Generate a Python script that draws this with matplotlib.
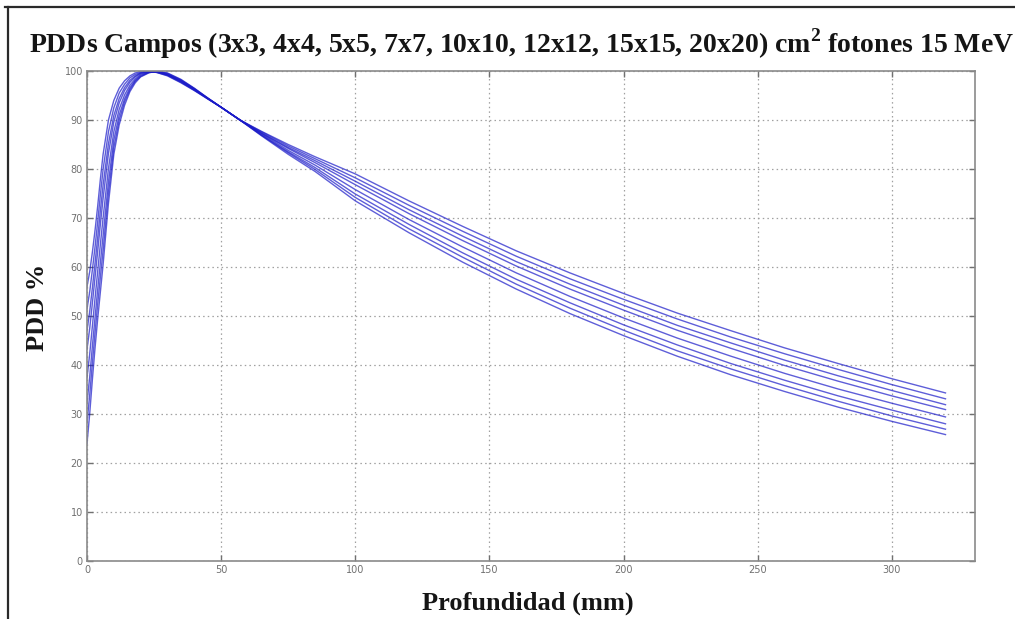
import matplotlib
matplotlib.use("Agg")
import matplotlib.pyplot as plt
from matplotlib.lines import Line2D

# Depth (mm)
depth = [0, 1, 2, 3, 4, 5, 6, 8, 10, 12, 14, 16, 18, 20, 23, 26, 30, 35, 40, 45, 50,
         57, 65, 75, 85, 100, 120, 140, 160, 180, 200, 220, 240, 260, 280, 300, 320]

fields = ["3x3", "4x4", "5x5", "7x7", "10x10", "12x12", "15x15", "20x20"]

pdd_3x3 = [24, 30, 37, 43.5, 49.5, 55, 60.5, 73, 83, 89, 93, 95.8, 97.6, 98.8, 99.6, 100, 99.6, 98.3, 96.5, 94.5, 92.6,
           90, 86.8, 83.0, 79.5, 73.5, 67.0, 61.0, 55.5, 50.5, 46.0, 41.8, 38.0, 34.6, 31.4, 28.5, 25.8]
pdd_4x4 = [28.2, 33.8, 40.4, 46.6, 52.5, 58, 63.4, 75.2, 84.4, 90, 93.7, 96.2, 97.9, 98.9, 99.7, 100, 99.5, 98.2, 96.4, 94.5, 92.6,
           90, 86.9, 83.3, 79.9, 74.2, 67.8, 62.0, 56.5, 51.6, 47.1, 42.9, 39.2, 35.8, 32.6, 29.6, 26.9]
pdd_5x5 = [32.3, 37.5, 43.8, 49.7, 55.5, 61, 66.4, 77.4, 85.9, 91, 94.3, 96.6, 98.1, 99.1, 99.7, 99.9, 99.4, 98.1, 96.4, 94.4, 92.6,
           90, 87.0, 83.5, 80.3, 74.9, 68.7, 62.9, 57.5, 52.7, 48.2, 44.1, 40.3, 36.9, 33.7, 30.8, 28.0]
pdd_7x7 = [37.4, 42.2, 47.9, 53.6, 59.2, 64.7, 70, 80.1, 87.6, 92.2, 95.1, 97.1, 98.4, 99.3, 99.8, 99.9, 99.3, 98.0, 96.3, 94.4, 92.6,
           90, 87.2, 83.8, 80.8, 75.8, 69.7, 64.1, 58.8, 54.0, 49.6, 45.5, 41.8, 38.3, 35.1, 32.2, 29.4]
pdd_10x10 = [43.2, 47.4, 52.6, 57.9, 63.3, 68.8, 74, 83.2, 89.6, 93.5, 96, 97.7, 98.8, 99.5, 99.8, 99.8, 99.2, 97.9, 96.2, 94.4, 92.6,
             90, 87.3, 84.2, 81.3, 76.8, 70.9, 65.4, 60.2, 55.5, 51.2, 47.1, 43.4, 39.9, 36.7, 33.7, 30.9]
pdd_12x12 = [47.0, 50.9, 55.7, 60.8, 66.1, 71.6, 76.7, 85.2, 90.9, 94.4, 96.6, 98.1, 99.0, 99.6, 99.9, 99.8, 99.2, 97.8, 96.1, 94.4, 92.6,
             90, 87.4, 84.4, 81.7, 77.5, 71.7, 66.3, 61.1, 56.5, 52.2, 48.1, 44.5, 41.0, 37.8, 34.8, 31.9]
pdd_15x15 = [51.5, 54.9, 59.4, 64.1, 69.3, 74.8, 79.9, 87.6, 92.5, 95.5, 97.3, 98.6, 99.3, 99.7, 99.9, 99.7, 99.1, 97.7, 96.1, 94.3, 92.6,
             90, 87.6, 84.7, 82.1, 78.2, 72.6, 67.3, 62.2, 57.6, 53.4, 49.4, 45.7, 42.3, 39.1, 36.0, 33.1]
pdd_20x20 = [56, 59, 63, 67.5, 72.5, 78, 83, 90, 94, 96.5, 98, 99, 99.6, 99.9, 100, 99.7, 99, 97.6, 96, 94.3, 92.6,
             90, 87.7, 85.0, 82.5, 79.0, 73.5, 68.3, 63.3, 58.8, 54.6, 50.6, 47.0, 43.5, 40.3, 37.2, 34.3]

curves = [pdd_3x3, pdd_4x4, pdd_5x5, pdd_7x7, pdd_10x10, pdd_12x12, pdd_15x15, pdd_20x20]

xticks = [0, 50, 100, 150, 200, 250, 300]
yticks = [0, 10, 20, 30, 40, 50, 60, 70, 80, 90, 100]

plt.rcParams['mathtext.fontset'] = 'custom'
plt.rcParams['mathtext.rm'] = 'Liberation Serif:bold'
plt.rcParams['mathtext.bf'] = 'Liberation Serif:bold'

W, H = 1015, 619
fig = plt.figure(figsize=(W / 100, H / 100), dpi=100)
fig.patch.set_facecolor('white')
ax = fig.add_axes([87 / W, 1 - 561 / H, (975 - 87) / W, (561 - 71) / H])

for c in curves:
    ax.plot(depth, c, color='#1a1ac8', lw=1.0, alpha=0.7)

ax.set_xlim(0, 331)
ax.set_ylim(0, 100)
ax.set_xticks(xticks)
ax.set_yticks(yticks)
ax.grid(True, linestyle=(0, (1.2, 2.5)), color='#a0a0a0', lw=0.9)
ax.tick_params(direction='in', length=4, width=1, colors='#707070', labelsize=7,
               top=True, right=True, labelcolor='#707070', pad=3)
for s in ax.spines.values():
    s.set_color('#8a8a8a')
    s.set_linewidth(1.2)

serif = ['Liberation Serif', 'DejaVu Serif']
fig.text(522 / W, 1 - 44 / H,
         r"PDDs Campos (3x3, 4x4, 5x5, 7x7, 10x10, 12x12, 15x15, 20x20) cm$^{2}$ fotones 15 MeV",
         ha='center', va='center', fontsize=20, fontweight='bold', family=serif, color='#151515')
fig.text(528 / W, 1 - 603 / H, "Profundidad (mm)", ha='center', va='center',
         fontsize=19, fontweight='bold', family=serif, color='#151515')
fig.text(38 / W, 1 - 307 / H, "PDD %", ha='center', va='center', rotation=90,
         fontsize=19, fontweight='bold', family=serif, color='#151515')

# figure frame (left and top edges)
fig.add_artist(Line2D([8 / W, 8 / W], [0, 1 - 7 / H], transform=fig.transFigure,
                      color='#2a2a2a', lw=1.6))
fig.add_artist(Line2D([5 / W, 1], [1 - 7 / H, 1 - 7 / H], transform=fig.transFigure,
                      color='#2a2a2a', lw=1.6))

fig.savefig("out.png", dpi=100, facecolor='white')
